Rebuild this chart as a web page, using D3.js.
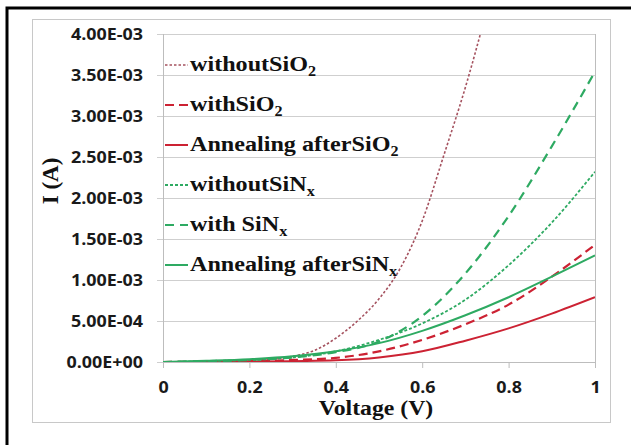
<!DOCTYPE html>
<html>
<head>
<meta charset="utf-8">
<script src="https://cdn.jsdelivr.net/npm/d3@7"></script>
<style>
  body { margin: 0; background: #fff; overflow: hidden; }
  svg { display: block; }
</style>
</head>
<body>
<div id="chart"></div>
<script>
// values, current in A
var voltage = [0, 0.1, 0.2, 0.3, 0.4, 0.5, 0.6, 0.7, 0.8, 0.9, 1.0]
  , voltageNoSiO2 = [0, 0.1, 0.2, 0.25, 0.3, 0.35, 0.4, 0.45, 0.5, 0.55, 0.6, 0.65, 0.7, 0.75]
  , withoutSiO2 = [0, 0.005e-3, 0.02e-3, 0.04e-3, 0.07e-3, 0.14e-3, 0.29e-3, 0.5e-3, 0.77e-3, 1.15e-3, 1.72e-3, 2.52e-3, 3.35e-3, 4.3e-3]
  , withSiO2 = [0, 0.003e-3, 0.01e-3, 0.025e-3, 0.05e-3, 0.13e-3, 0.27e-3, 0.46e-3, 0.70e-3, 1.04e-3, 1.43e-3]
  , annealSiO2 = [0, 0.001e-3, 0.004e-3, 0.01e-3, 0.02e-3, 0.055e-3, 0.13e-3, 0.26e-3, 0.41e-3, 0.59e-3, 0.79e-3]
  , withoutSiNx = [0, 0.01e-3, 0.025e-3, 0.055e-3, 0.13e-3, 0.27e-3, 0.47e-3, 0.76e-3, 1.18e-3, 1.70e-3, 2.32e-3]
  , withSiNx = [0, 0.01e-3, 0.025e-3, 0.055e-3, 0.12e-3, 0.25e-3, 0.56e-3, 1.08e-3, 1.78e-3, 2.63e-3, 3.54e-3]
  , annealSiNx = [0, 0.015e-3, 0.035e-3, 0.07e-3, 0.13e-3, 0.23e-3, 0.38e-3, 0.57e-3, 0.79e-3, 1.04e-3, 1.30e-3]
  , xTicks = [0, 0.2, 0.4, 0.6, 0.8, 1]
  , xTickLabels = ['0', '0.2', '0.4', '0.6', '0.8', '1']
  , yTicks = [0, 0.5e-3, 1e-3, 1.5e-3, 2e-3, 2.5e-3, 3e-3, 3.5e-3, 4e-3]
  , yTickLabels = ['0.00E+00', '5.00E-04', '1.00E-03', '1.50E-03', '2.00E-03', '2.50E-03', '3.00E-03', '3.50E-03', '4.00E-03']
  , seriesNames = ['withoutSiO', 'withSiO', 'Annealing afterSiO', 'withoutSiN', 'with SiN', 'Annealing afterSiN']
  , seriesSubs = ['2', '2', '2', 'x', 'x', 'x']

var W = 631, H = 445
  , pL = 163, pR = 595, pT = 34, pB = 362
  , red = '#cc2233', brown = '#a5525f', green = '#2eaa62'
  , serif = '"Liberation Serif", "Times New Roman", serif'
  , sans = '"Open Sans", sans-serif'

var series = [
    { name: seriesNames[0], sub: seriesSubs[0], xs: voltageNoSiO2, ys: withoutSiO2, color: brown, dash: '2.5,2', width: 1.6 }
  , { name: seriesNames[1], sub: seriesSubs[1], xs: voltage, ys: withSiO2, color: red, dash: '9,5', width: 2.2 }
  , { name: seriesNames[2], sub: seriesSubs[2], xs: voltage, ys: annealSiO2, color: red, dash: null, width: 2 }
  , { name: seriesNames[3], sub: seriesSubs[3], xs: voltage, ys: withoutSiNx, color: green, dash: '3,2', width: 1.8 }
  , { name: seriesNames[4], sub: seriesSubs[4], xs: voltage, ys: withSiNx, color: green, dash: '9,6', width: 2.2 }
  , { name: seriesNames[5], sub: seriesSubs[5], xs: voltage, ys: annealSiNx, color: green, dash: null, width: 2 }
]

var svg = d3.select('#chart').append('svg').attr('width', W).attr('height', H)

var x = d3.scaleLinear().domain([0, 1]).range([pL, pR])
  , y = d3.scaleLinear().domain([0, 4e-3]).range([pB, pT])

// outer frame (only left and top edges show) + chart area
svg.append('path').attr('d', 'M7,' + H + 'V8H' + W)
  .attr('fill', 'none').attr('stroke', '#000').attr('stroke-width', 3)
svg.append('rect').attr('x', 32.5).attr('y', 19.5).attr('width', 578).attr('height', 403)
  .attr('fill', '#fff').attr('stroke', '#c8c8c8').attr('stroke-width', 1)

svg.append('defs').append('clipPath').attr('id', 'plot')
  .append('rect').attr('x', pL).attr('y', pT).attr('width', pR - pL).attr('height', pB - pT)

// y axis: gridlines, ticks, labels
var yAxis = svg.append('g').attr('transform', 'translate(' + pL + ',0)')
  .call(d3.axisLeft(y).tickValues(yTicks).tickSize(-(pR - pL)).tickSizeOuter(0)
    .tickFormat(function(d, i){ return yTickLabels[i] }))
yAxis.select('.domain').remove()
yAxis.selectAll('.tick line').attr('stroke', '#cfcfcf').attr('x1', -6)
yAxis.selectAll('.tick text').attr('x', 0)
  .attr('transform', 'translate(-20,0) scale(1.12,1)')
  .attr('font-family', sans).attr('font-weight', 'bold')
  .attr('font-size', 16).attr('fill', '#1a1a1a').attr('dy', '0.36em')

// x axis
var xAxis = svg.append('g').attr('transform', 'translate(0,' + pB + ')')
  .call(d3.axisBottom(x).tickValues(xTicks).tickSize(6).tickSizeOuter(0)
    .tickFormat(function(d, i){ return xTickLabels[i] }))
xAxis.select('.domain').attr('stroke', '#bdbdbd')
xAxis.selectAll('.tick line').attr('stroke', '#bdbdbd')
xAxis.selectAll('.tick text').attr('y', 0)
  .attr('transform', 'translate(0,31) scale(1.12,1)')
  .attr('font-family', sans).attr('font-weight', 'bold')
  .attr('font-size', 16).attr('fill', '#1a1a1a').attr('dy', 0)

// plot border (left, right)
svg.append('line').attr('x1', pL + 0.5).attr('x2', pL + 0.5).attr('y1', pT).attr('y2', pB)
  .attr('stroke', '#bdbdbd')
svg.append('line').attr('x1', pR + 0.5).attr('x2', pR + 0.5).attr('y1', pT).attr('y2', pB)
  .attr('stroke', '#bdbdbd')

// curves
var line = d3.line().curve(d3.curveMonotoneX)
  .x(function(d){ return x(d[0]) }).y(function(d){ return y(d[1]) })

svg.append('g').attr('clip-path', 'url(#plot)')
  .selectAll('path').data(series).enter().append('path')
    .attr('d', function(s){ return line(s.xs.map(function(v, i){ return [v, s.ys[i]] })) })
    .attr('fill', 'none')
    .attr('stroke', function(s){ return s.color })
    .attr('stroke-width', function(s){ return s.width })
    .attr('stroke-dasharray', function(s){ return s.dash })

// legend inside plot
var leg = svg.append('g').selectAll('g').data(series).enter().append('g')
  .attr('transform', function(d, i){ return 'translate(165,' + (71 + i * 40) + ')' })

leg.append('line').attr('x1', 0).attr('x2', 23).attr('y1', -6).attr('y2', -6)
  .attr('stroke', function(s){ return s.color })
  .attr('stroke-width', function(s){ return s.width })
  .attr('stroke-dasharray', function(s){ return s.dash })

var lt = leg.append('text').attr('transform', 'translate(25,0) scale(1.15,1)')
  .attr('font-family', serif)
  .attr('font-weight', 'bold').attr('font-size', 21).attr('fill', '#111')
lt.append('tspan').text(function(s){ return s.name })
lt.append('tspan').attr('font-size', 14).attr('dy', 5).text(function(s){ return s.sub })

// axis titles
svg.append('text').attr('transform', 'translate(376,415) scale(1.08,1)')
  .attr('text-anchor', 'middle')
  .attr('font-family', serif)
  .attr('font-weight', 'bold').attr('font-size', 22).attr('fill', '#111')
  .text('Voltage (V)')

svg.append('text').attr('transform', 'translate(58,181) rotate(-90)')
  .attr('text-anchor', 'middle')
  .attr('font-family', serif)
  .attr('font-weight', 'bold').attr('font-size', 23).attr('fill', '#111')
  .text('I (A)')
</script>
</body>
</html>
